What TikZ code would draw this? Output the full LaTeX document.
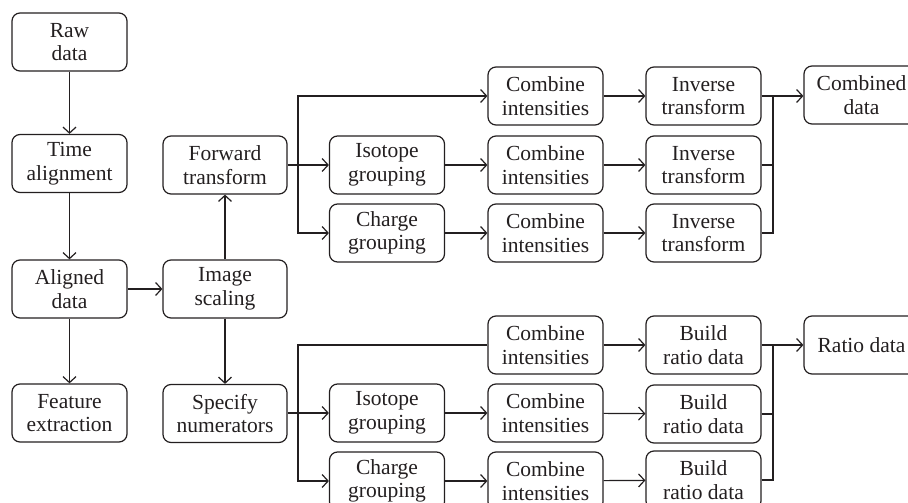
\documentclass[tikz,border=0pt]{standalone}
\usepackage{fontspec}
\setmainfont{Liberation Serif}
\usetikzlibrary{arrows.meta}
\definecolor{ink}{HTML}{231F20}
\tikzset{
  box/.style={draw=ink, text=ink, line width=1.2pt, rounded corners=8pt,
    minimum width=115pt, minimum height=58pt, inner sep=0pt, align=center,
    font=\fontsize{21.5}{23.5}\selectfont},
  wbox/.style={box, minimum width=124pt},
  conn/.style={draw=ink, line width=1.2pt},
  arr/.style={conn, -{Straight Barb[length=6pt,width=13pt,line width=1.2pt]}}
}
\begin{document}
\begin{tikzpicture}[x=1pt,y=-1pt]
\useasboundingbox (0,0) rectangle (908,503);
% column 1
\node[box] (raw) at (69.5,42) {Raw\\data};
\node[box] (time) at (69.5,163.5) {Time\\alignment};
\node[box] (aligned) at (69.5,289) {Aligned\\data};
\node[box] (feature) at (69.5,413) {Feature\\extraction};
% column 2
\node[wbox] (forward) at (225,165) {Forward\\transform};
\node[wbox] (image) at (225,289) {Image\\scaling};
\node[wbox] (specify) at (225,413.5) {Specify\\numerators};
% grouping column
\node[box] (iso1) at (387,165) {Isotope\\grouping};
\node[box] (chg1) at (387,233) {Charge\\grouping};
\node[box] (iso2) at (387,413) {Isotope\\grouping};
\node[box] (chg2) at (387,481) {Charge\\grouping};
% combine column
\node[box] (c1) at (545.5,96) {Combine\\intensities};
\node[box] (c2) at (545.5,165) {Combine\\intensities};
\node[box] (c3) at (545.5,233) {Combine\\intensities};
\node[box] (c4) at (545.5,345) {Combine\\intensities};
\node[box] (c5) at (545.5,413) {Combine\\intensities};
\node[box] (c6) at (545.5,481) {Combine\\intensities};
% inverse / build column
\node[box] (inv1) at (703.5,96) {Inverse\\transform};
\node[box] (inv2) at (703.5,165) {Inverse\\transform};
\node[box] (inv3) at (703.5,233) {Inverse\\transform};
\node[box] (bld1) at (703.5,345) {Build\\ratio data};
\node[box] (bld2) at (703.5,414) {Build\\ratio data};
\node[box] (bld3) at (703.5,480) {Build\\ratio data};
% outputs
\node[box] (combined) at (861.5,95) {Combined\\data};
\node[box] (ratio) at (861.5,345) {Ratio data};
% junctions
\coordinate (b1) at (298,165);
\coordinate (b2) at (298,413);
\coordinate (j1) at (773,96);
\coordinate (j2) at (773,345);
% column connectors
\draw[arr] (raw) -- (time);
\draw[arr] (time) -- (aligned);
\draw[arr] (aligned) -- (feature);
\draw[arr] (aligned) -- (image);
\draw[arr] (image) -- (forward);
\draw[arr] (image) -- (specify);
% upper branch
\draw[conn] (forward.east) -- (b1);
\draw[arr] (b1) -- (iso1);
\draw[arr] (b1) |- (chg1);
\draw[arr] (b1) |- (c1);
\draw[arr] (iso1) -- (c2);
\draw[arr] (chg1) -- (c3);
\draw[arr] (c1) -- (inv1);
\draw[arr] (c2) -- (inv2);
\draw[arr] (c3) -- (inv3);
\draw[arr] (inv1.east |- j1) -- (combined.west |- j1);
\draw[conn] (inv2.east) -| (j1);
\draw[conn] (inv3.east) -| (j1);
% lower branch
\draw[conn] (specify.east |- b2) -- (b2);
\draw[arr] (b2) -- (iso2);
\draw[arr] (b2) |- (chg2);
\draw[conn] (b2) |- (c4);
\draw[arr] (iso2) -- (c5);
\draw[arr] (chg2) -- (c6);
\draw[arr] (c4) -- (bld1);
\draw[arr] (c5) -- (bld2);
\draw[arr] (c6) -- (bld3);
\draw[arr] (bld1) -- (ratio);
\draw[conn] (bld2.east) -| (j2);
\draw[conn] (bld3.east) -| (j2);
\end{tikzpicture}
\end{document}
